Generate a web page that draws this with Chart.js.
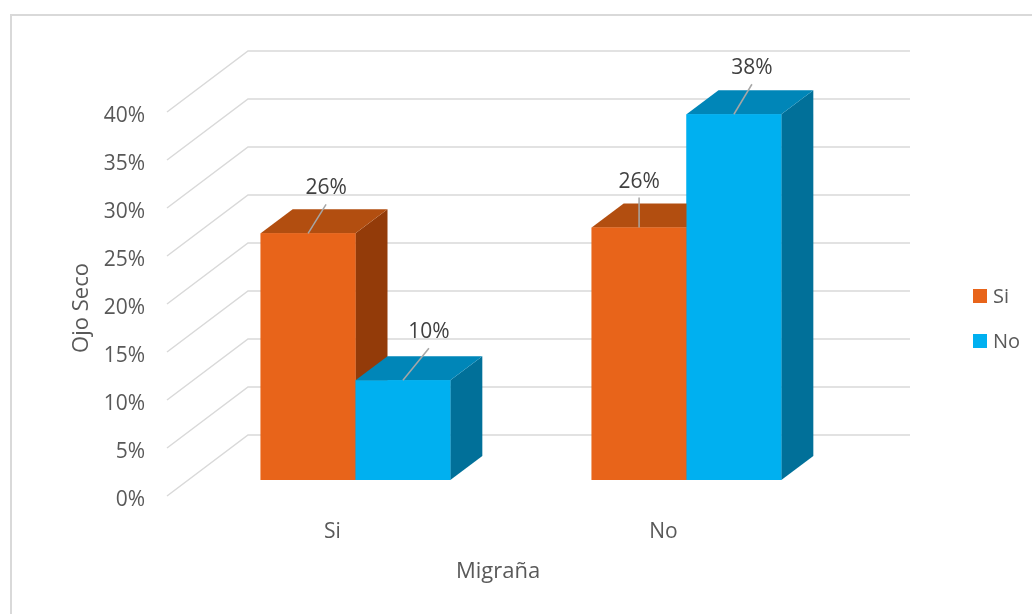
<!DOCTYPE html>
<html>
<head>
<meta charset="utf-8">
<script src="https://cdn.jsdelivr.net/npm/chart.js@4.4.1/dist/chart.umd.min.js"></script>
<style>
  html, body { margin: 0; padding: 0; background: #fff; overflow: hidden; }
  canvas { display: block; }
</style>
</head>
<body>
<canvas id="chart" width="1032" height="614"></canvas>
<script>
// Datos (Migraña vs Ojo Seco)
const categorias = ['Si', 'No'];
const serieSi = [25.7, 26.3];
const serieNo = [10.4, 38.1];
const ticksY = [0, 5, 10, 15, 20, 25, 30, 35, 40];

// Efecto 3D
const FONDO = { dx: 58, dy: -45 };   // pared del fondo, respecto a la cara frontal de las barras
const FRENTE = { dx: -23, dy: 16 };  // borde frontal del suelo
const BARRA = { dx: 32, dy: -24 };   // profundidad de cada barra
const FUENTE = '"Open Sans", "DejaVu Sans", sans-serif';
const GRIS = '#d9d9d9';

// desplazamiento de cada etiqueta respecto al centro del borde superior
const posEtiquetas = [
  [[18, -45], [0, -46]],
  [[26, -48], [18, -46]]
];

function poligono(ctx, pts, color) {
  ctx.beginPath();
  ctx.moveTo(pts[0][0], pts[0][1]);
  for (let k = 1; k < pts.length; k++) ctx.lineTo(pts[k][0], pts[k][1]);
  ctx.closePath();
  ctx.fillStyle = color;
  ctx.fill();
}

const efecto3d = {
  id: 'efecto3d',
  beforeDraw(chart) {
    const ctx = chart.ctx;
    ctx.save();
    ctx.strokeStyle = GRIS;
    ctx.lineWidth = 2;
    ctx.strokeRect(11, 15, 1200, 800);
    ctx.restore();
  },
  beforeDatasetsDraw(chart) {
    const ctx = chart.ctx;
    const { left, right } = chart.chartArea;
    const y = chart.scales.y;
    ctx.save();
    ctx.strokeStyle = GRIS;
    ctx.lineWidth = 1.5;
    ticksY.forEach(function(v) {
      const py = y.getPixelForValue(v);
      ctx.beginPath();
      ctx.moveTo(left + FRENTE.dx, py + FRENTE.dy);
      ctx.lineTo(left + FONDO.dx, py + FONDO.dy);
      ctx.lineTo(right + FONDO.dx, py + FONDO.dy);
      ctx.stroke();
    });
    ctx.restore();
  },
  afterDatasetsDraw(chart) {
    const ctx = chart.ctx;
    const datasets = chart.data.datasets;
    ctx.save();
    // caras de las barras
    for (let j = 0; j < categorias.length; j++) {
      for (let i = 0; i < datasets.length; i++) {
        const bar = chart.getDatasetMeta(i).data[j];
        const l = bar.x - bar.width / 2, r = bar.x + bar.width / 2;
        const t = bar.y, b = bar.base;
        const ds = datasets[i];
        poligono(ctx, [[r, t], [r + BARRA.dx, t + BARRA.dy], [r + BARRA.dx, b + BARRA.dy], [r, b]], ds.sideColor);
        poligono(ctx, [[l, t], [r, t], [r + BARRA.dx, t + BARRA.dy], [l + BARRA.dx, t + BARRA.dy]], ds.topColor);
        ctx.fillStyle = ds.backgroundColor;
        ctx.fillRect(l, t, r - l, b - t);
      }
    }
    // etiquetas de datos con línea guía
    ctx.font = '21px ' + FUENTE;
    ctx.textAlign = 'center';
    ctx.textBaseline = 'middle';
    for (let i = 0; i < datasets.length; i++) {
      chart.getDatasetMeta(i).data.forEach(function(bar, j) {
        const off = posEtiquetas[i][j];
        const tx = bar.x + off[0], ty = bar.y + off[1];
        ctx.strokeStyle = '#a6a6a6';
        ctx.lineWidth = 1.5;
        ctx.beginPath();
        ctx.moveTo(bar.x, bar.y);
        ctx.lineTo(tx, ty + 16);
        ctx.stroke();
        ctx.fillStyle = '#404040';
        ctx.fillText(Math.round(datasets[i].data[j]) + '%', tx, ty);
      });
    }
    ctx.restore();
  },
  afterDraw(chart) {
    const ctx = chart.ctx;
    const { left, right } = chart.chartArea;
    const y = chart.scales.y;
    ctx.save();
    ctx.fillStyle = '#595959';
    ctx.font = '22px ' + FUENTE;
    ctx.textAlign = 'center';
    ctx.textBaseline = 'middle';
    // título eje Y, centrado sobre el borde frontal
    const yMid = (y.getPixelForValue(ticksY[0]) + y.getPixelForValue(ticksY[ticksY.length - 1])) / 2 + FRENTE.dy + 4;
    ctx.save();
    ctx.translate(82, yMid);
    ctx.rotate(-Math.PI / 2);
    ctx.fillText('Ojo Seco', 0, 0);
    ctx.restore();
    // título eje X
    ctx.fillText('Migraña', (left + right) / 2 + FRENTE.dx, 572);
    // leyenda
    ctx.font = '20px ' + FUENTE;
    ctx.textAlign = 'left';
    chart.data.datasets.forEach(function(ds, i) {
      const cy = 296 + i * 45;
      ctx.fillStyle = ds.backgroundColor;
      ctx.fillRect(973, cy - 7, 14, 14);
      ctx.fillStyle = '#595959';
      ctx.fillText(ds.label, 993, cy + 1);
    });
    ctx.restore();
  }
};

const ctx = document.getElementById('chart').getContext('2d');
new Chart(ctx, {
  type: 'bar',
  data: {
    labels: categorias,
    datasets: [{
      label: 'Si',
      data: serieSi,
      backgroundColor: '#E8641A',
      topColor: '#B24E10',
      sideColor: '#933B09'
    }, {
      label: 'No',
      data: serieNo,
      backgroundColor: '#00B0F0',
      topColor: '#0086B8',
      sideColor: '#017099'
    }]
  },
  options: {
    responsive: false,
    animation: false,
    events: [],
    layout: { padding: { top: 96, right: 180, left: 0, bottom: 0 } },
    datasets: { bar: { barPercentage: 1, categoryPercentage: 0.573 } },
    plugins: {
      legend: { display: false },
      tooltip: { enabled: false }
    },
    scales: {
      x: {
        grid: { display: false, drawTicks: false },
        border: { display: false },
        ticks: { padding: 39, labelOffset: -23, color: '#595959', font: { family: FUENTE, size: 21 } },
        afterFit: function(s) { s.height = 134; }
      },
      y: {
        min: 0,
        max: 40,
        grid: { display: false, drawTicks: false },
        border: { display: false },
        ticks: {
          padding: 45,
          labelOffset: 20,
          color: '#595959',
          font: { family: FUENTE, size: 21 },
          callback: function(v) { return v + '%'; }
        },
        afterBuildTicks: function(s) { s.ticks = ticksY.map(function(v) { return { value: v }; }); },
        afterFit: function(s) { s.width = 190; }
      }
    }
  },
  plugins: [efecto3d]
});
</script>
</body>
</html>
